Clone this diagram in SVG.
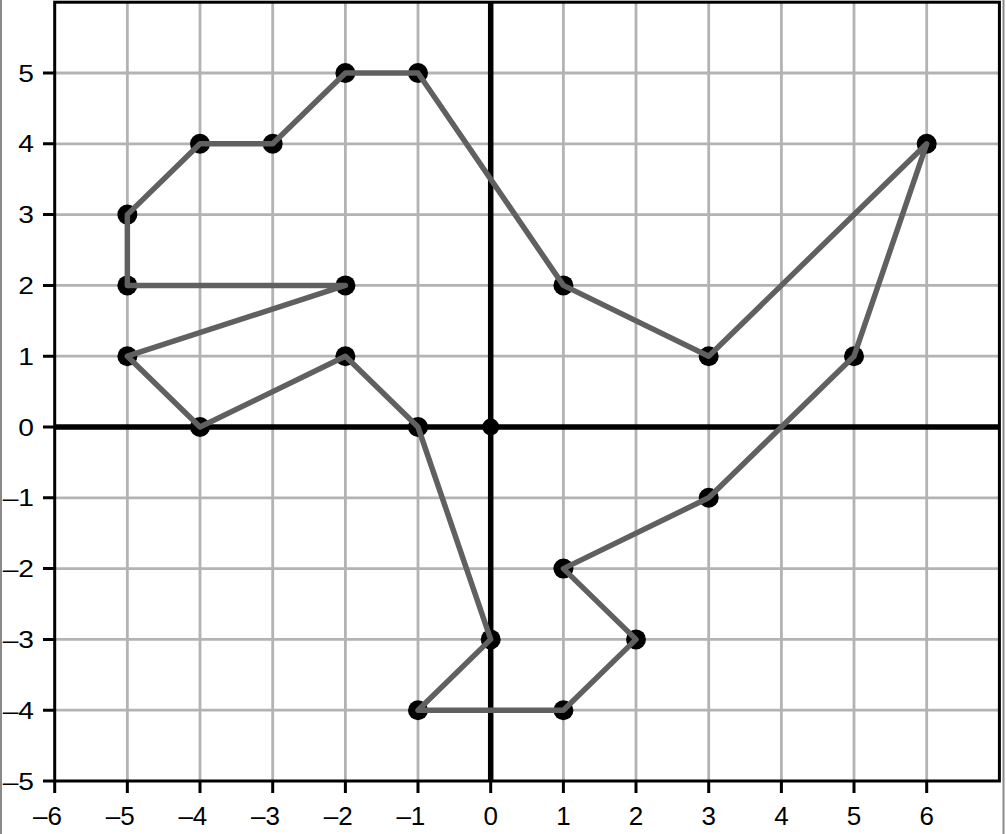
<svg xmlns="http://www.w3.org/2000/svg" width="1006" height="834" viewBox="0 0 1006 834">
<style>
.grid{stroke:#b3b3b3;stroke-width:2.8;fill:none}
.axis{stroke:#000;stroke-width:5.5;fill:none}
.frame{stroke:#000;stroke-width:3;fill:none}
.tick{stroke:#000;stroke-width:3}
.xl{font-family:"Liberation Sans",Arial,sans-serif;font-size:26px;fill:#000}
.yl{font-family:"Liberation Sans",Arial,sans-serif;font-size:23.5px;fill:#000}
.edge{stroke:#606060;stroke-width:5.5;fill:none;stroke-linejoin:round;stroke-linecap:round}
.pt{fill:#000}
</style>
<rect x="0" y="0" width="1006" height="834" fill="#fff"/>
<line x1="1" y1="0" x2="1" y2="834" stroke="#8a8a8a" stroke-width="2"/>
<line x1="1003.5" y1="0" x2="1003.5" y2="834" stroke="#8a8a8a" stroke-width="2"/>
<g id="grid" class="grid">
<path d="M127.35 2.2V781M200 2.2V781M272.7 2.2V781M345.4 2.2V781M418 2.2V781M563.4 2.2V781M636 2.2V781M708.7 2.2V781M781.4 2.2V781M854 2.2V781M926.7 2.2V781"/>
<path d="M54.7 73H999.4M54.7 143.8H999.4M54.7 214.6H999.4M54.7 285.4H999.4M54.7 356.2H999.4M54.7 497.8H999.4M54.7 568.6H999.4M54.7 639.4H999.4M54.7 710.2H999.4"/>
</g>
<g id="frame">
<rect class="frame" x="54.7" y="2.2" width="944.7" height="778.8"/>
<g class="tick">
<path d="M54.7 781v12M127.35 781v12M200 781v12M272.7 781v12M345.4 781v12M418 781v12M490.7 781v12M563.4 781v12M636 781v12M708.7 781v12M781.4 781v12M854 781v12M926.7 781v12"/>
<path d="M43 781h12M43 710.2h12M43 639.4h12M43 568.6h12M43 497.8h12M43 427h12M43 356.2h12M43 285.4h12M43 214.6h12M43 143.8h12M43 73h12"/>
</g>
</g>
<g id="xlabels" class="xl" text-anchor="end">
<text x="62" y="825">–6</text>
<text x="134.6" y="825">–5</text>
<text x="207.3" y="825">–4</text>
<text x="280" y="825">–3</text>
<text x="352.7" y="825">–2</text>
<text x="425.3" y="825">–1</text>
<text x="498" y="825">0</text>
<text x="570.7" y="825">1</text>
<text x="643.3" y="825">2</text>
<text x="716" y="825">3</text>
<text x="788.7" y="825">4</text>
<text x="861.3" y="825">5</text>
<text x="934" y="825">6</text>
</g>
<g id="ylabels" class="yl" text-anchor="end">
<text transform="translate(34 789.5) scale(1.2 1)">–5</text>
<text transform="translate(34 718.7) scale(1.2 1)">–4</text>
<text transform="translate(34 647.9) scale(1.2 1)">–3</text>
<text transform="translate(34 577.1) scale(1.2 1)">–2</text>
<text transform="translate(34 506.3) scale(1.2 1)">–1</text>
<text transform="translate(34 435.5) scale(1.2 1)">0</text>
<text transform="translate(34 364.7) scale(1.2 1)">1</text>
<text transform="translate(34 293.9) scale(1.2 1)">2</text>
<text transform="translate(34 223.1) scale(1.2 1)">3</text>
<text transform="translate(34 152.3) scale(1.2 1)">4</text>
<text transform="translate(34 81.5) scale(1.2 1)">5</text>
</g>
<g id="axes" class="axis">
<line x1="490.7" y1="2.2" x2="490.7" y2="781"/>
<line x1="54.7" y1="427" x2="999.4" y2="427"/>
</g>
<g id="origin"><circle class="pt" cx="490.7" cy="427" r="8.5"/></g>
<g id="points" class="pt">
<circle cx="418" cy="427" r="10"/>
<circle cx="345.4" cy="356.2" r="10"/>
<circle cx="200" cy="427" r="10"/>
<circle cx="127.35" cy="356.2" r="10"/>
<circle cx="345.4" cy="285.4" r="10"/>
<circle cx="127.35" cy="285.4" r="10"/>
<circle cx="127.35" cy="214.6" r="10"/>
<circle cx="200" cy="143.8" r="10"/>
<circle cx="272.7" cy="143.8" r="10"/>
<circle cx="345.4" cy="73" r="10"/>
<circle cx="418" cy="73" r="10"/>
<circle cx="563.4" cy="285.4" r="10"/>
<circle cx="708.7" cy="356.2" r="10"/>
<circle cx="926.7" cy="143.8" r="10"/>
<circle cx="854" cy="356.2" r="10"/>
<circle cx="708.7" cy="497.8" r="10"/>
<circle cx="563.4" cy="568.6" r="10"/>
<circle cx="636" cy="639.4" r="10"/>
<circle cx="563.4" cy="710.2" r="10"/>
<circle cx="418" cy="710.2" r="10"/>
<circle cx="490.7" cy="639.4" r="10"/>
</g>
<g id="connectors">
<polygon class="edge" points="418,427 345.4,356.2 200,427 127.35,356.2 345.4,285.4 127.35,285.4 127.35,214.6 200,143.8 272.7,143.8 345.4,73 418,73 563.4,285.4 708.7,356.2 926.7,143.8 854,356.2 708.7,497.8 563.4,568.6 636,639.4 563.4,710.2 418,710.2 490.7,639.4"/>
</g>
</svg>
